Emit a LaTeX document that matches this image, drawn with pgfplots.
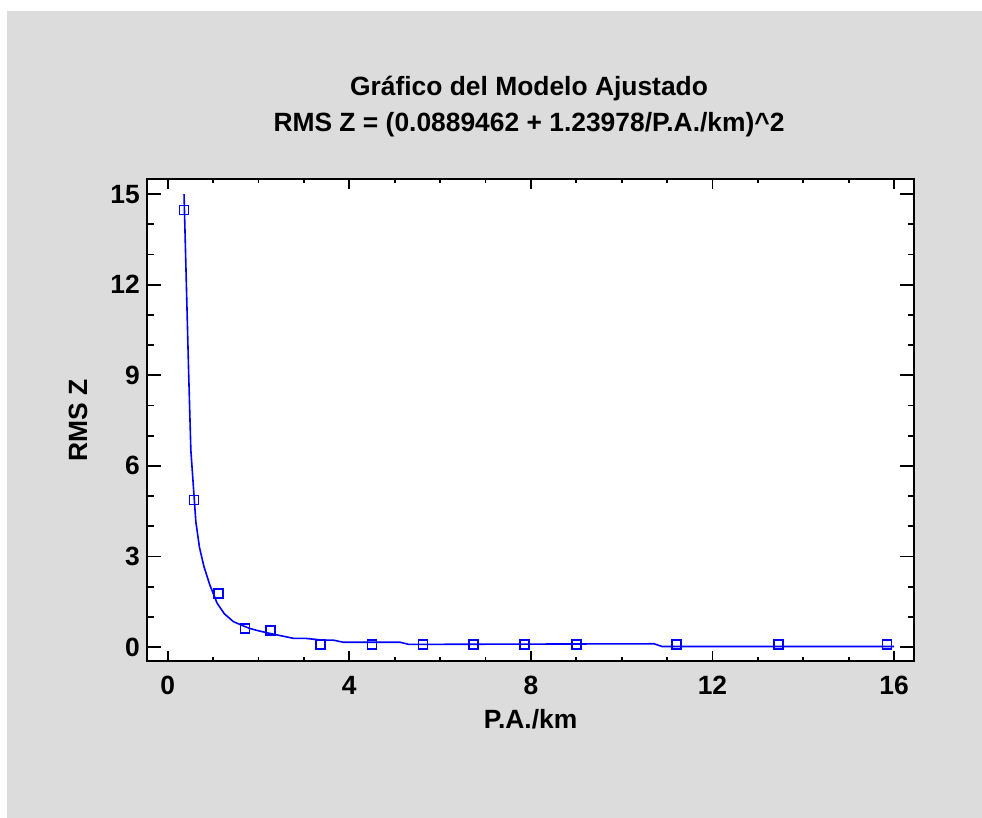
\documentclass[border=0pt]{standalone}
\usepackage{pgfplots}
\pgfplotsset{compat=1.18}
\usepackage{fontspec}
\setmainfont{Liberation Sans}

\definecolor{bg}{RGB}{220,220,220}
\definecolor{fitblue}{RGB}{0,0,255}
\newcommand{\chartfont}{\fontsize{26.5}{31}\selectfont\bfseries}

% observed points (P.A./km, RMS Z)
\pgfplotstableread{
x y
0.36 14.48
0.58 4.87
1.12 1.78
1.70 0.62
2.26 0.55
3.37 0.09
4.50 0.09
5.62 0.09
6.74 0.09
7.86 0.09
9.00 0.09
11.21 0.09
13.45 0.09
15.84 0.09
}\obsdata

% fitted curve as drawn
\pgfplotstableread{
x y
0.36 15.00
0.46 9.17
0.51 6.52
0.62 4.15
0.70 3.30
0.80 2.66
0.93 2.05
1.09 1.45
1.25 1.10
1.45 0.84
1.80 0.62
2.00 0.54
2.26 0.45
2.77 0.29
3.03 0.29
3.43 0.23
3.65 0.23
3.87 0.16
5.12 0.16
5.31 0.09
10.71 0.11
10.89 0.02
16.00 0.02
}\fitdata

\begin{document}
\begin{tikzpicture}
\fill[white] (0,0) rectangle (982bp,818bp);
\fill[bg] (7bp,0) rectangle (982bp,807bp);
\begin{axis}[
    at={(147bp,157bp)}, anchor=south west,
    scale only axis, width=767bp, height=482bp,
    xmin=-0.456, xmax=16.44,
    ymin=-0.46, ymax=15.5,
    xtick={0,4,8,12,16}, ytick={0,3,6,9,12,15},
    minor x tick num=3, minor y tick num=2,
    tick align=inside,
    axis background/.style={fill=white},
    axis line style={line width=2.2bp},
    every tick/.style={black, line width=1.8bp},
    xtick style={/pgfplots/major tick length=10bp, /pgfplots/minor tick length=4bp},
    ytick style={/pgfplots/major tick length=14bp, /pgfplots/minor tick length=6.5bp},
    /pgf/number format/assume math mode=true,
    ticklabel style={font=\chartfont},
    xticklabel style={anchor=base, yshift=-34bp},
    yticklabel style={anchor=east, inner sep=0pt, xshift=-7bp},
    xlabel={P.A./km}, ylabel={RMS Z},
    label style={font=\chartfont},
    xlabel style={at={(axis description cs:0.5,-0.139)}, anchor=base},
    ylabel style={at={(axis description cs:-0.0782,0.5)}, anchor=base, rotate=0},
]
\addplot[fitblue, line width=1.6bp, mark=none] table[x=x, y=y] {\fitdata};
\addplot[fitblue, only marks, mark=square, mark size=4.5bp, mark options={line width=1.5bp}] table[x=x, y=y] {\obsdata};
\end{axis}
\node[anchor=base, font=\chartfont] at (529bp,722bp) {Gráfico del Modelo Ajustado};
\node[anchor=base, font=\chartfont] at (529bp,686bp) {RMS Z = (0.0889462 + 1.23978/P.A./km)\textasciicircum 2};
\end{tikzpicture}
\end{document}
